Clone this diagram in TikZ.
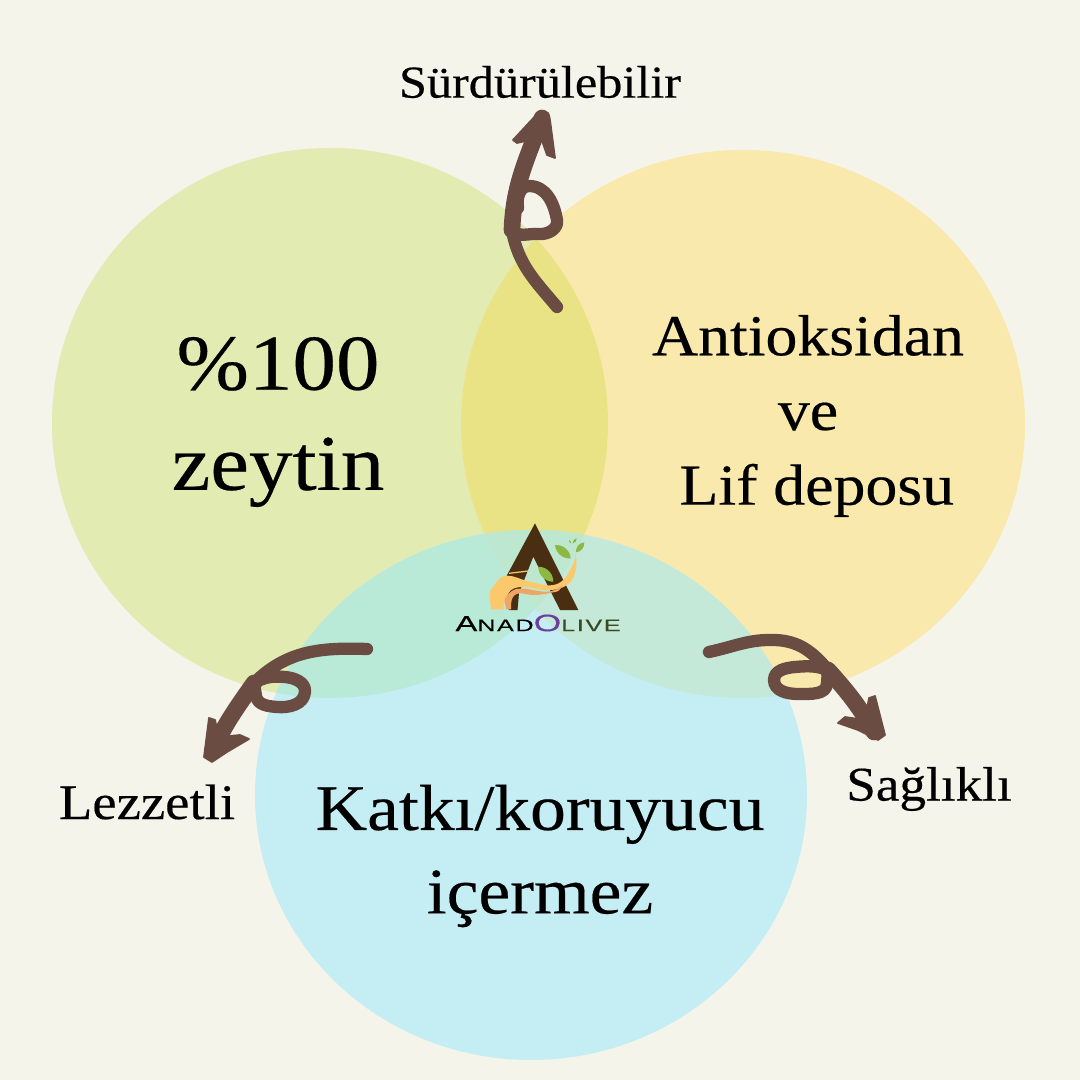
\documentclass[tikz,border=0pt]{standalone}
\usepackage{fontspec}
\usepackage{xcolor}
\usepackage{tikz}
\setmainfont[FakeStretch=1.1,FakeBold=0.35]{Liberation Serif}
\newfontfamily\logofont[FakeStretch=1.5,FakeBold=0.4,LetterSpace=10]{Liberation Sans}
\definecolor{paper}{HTML}{F5F4EA}
\definecolor{olivegreen}{HTML}{E2EBB1}
\definecolor{oliveyellow}{HTML}{F9E9AC}
\definecolor{oliveblue}{HTML}{C4EEF4}
\definecolor{greenyellow}{HTML}{EAE386}
\definecolor{bluegreen}{HTML}{B9EAD7}
\definecolor{blueyellow}{HTML}{C4E9D9}
\definecolor{allthree}{HTML}{BDE7CF}
\definecolor{arrowbrown}{HTML}{6B4C42}
\definecolor{logobrown}{HTML}{4A2E12}
\definecolor{logoyellow}{HTML}{FBC96C}
\definecolor{logoorange}{HTML}{EFA566}
\definecolor{logoleaf}{HTML}{8DB943}
\definecolor{logopurple}{HTML}{6B3FA0}
\definecolor{logodark}{HTML}{3B4A22}
\tikzset{
  swirl/.style={draw=arrowbrown,line width=7pt,line cap=round,line join=round},
  swirlthick/.style={draw=arrowbrown,line width=9.5pt,line cap=round},
  swirlhead/.style={fill=arrowbrown,draw=arrowbrown,line width=1pt,line join=round},
  bigtext/.style={align=center,text=black},
  greencircle/.style={x radius=27.8,y radius=27.5},
  yellowcircle/.style={x radius=28.2,y radius=27.4},
  bluecircle/.style={x radius=27.6,y radius=26.5}
}
\begin{document}
\begin{tikzpicture}[scale=0.2]
\tikzstyle{every node}+=[inner sep=0pt]
\fill [paper] (0,0) rectangle (108,-108);
% circles
\coordinate (zeytin) at (33.0,-42.3);
\coordinate (lif) at (74.3,-42.4);
\coordinate (katki) at (53.1,-79.5);
\fill [olivegreen] (zeytin) circle [greencircle];
\fill [oliveyellow] (lif) circle [yellowcircle];
\fill [oliveblue] (katki) circle [bluecircle];
\begin{scope}
\clip (zeytin) circle [greencircle];
\fill [greenyellow] (lif) circle [yellowcircle];
\fill [bluegreen] (katki) circle [bluecircle];
\clip (lif) circle [yellowcircle];
\fill [allthree] (katki) circle [bluecircle];
\end{scope}
\begin{scope}
\clip (lif) circle [yellowcircle];
\clip (katki) circle [bluecircle];
\fill [blueyellow] (lif) circle [yellowcircle];
\clip (zeytin) circle [greencircle];
\fill [allthree] (katki) circle [bluecircle];
\end{scope}
% texts
\node [bigtext,font=\fontsize{45}{57}\selectfont] (yuzde) at (27.8,-42.2) {\%100\\zeytin};
\node [bigtext,font=\fontsize{33}{42.5}\selectfont] (antiox) at (80.8,-41.6) {Antioksidan\\ve\\\hspace*{10pt}Lif deposu};
\node [bigtext,font=\fontsize{37}{47.5}\selectfont] (katkitext) at (54.0,-85.6) {Katkı/koruyucu\\içermez};
\node [font=\fontsize{26}{30}\selectfont] (surdur) at (54.0,-8.2) {Sürdürülebilir};
\node [font=\fontsize{28.3}{32}\selectfont] (lezzet) at (14.7,-80.2) {Lezzetli};
\node [font=\fontsize{27.5}{32}\selectfont] (saglik) at (92.9,-78.9) {Sağlıklı};
% top arrow
\coordinate (surtail) at (55.7,-30.7);
\coordinate (surtip) at (54.2,-11.8);
\coordinate (surstem) at (51.2,-23.0);
\draw [swirl] (surtail) to[out=130,in=-80] (surstem)
  to[out=-50,in=175] (53.9,-23.4) to[out=-5,in=-80] (55.7,-22.0)
  to[out=100,in=0] (52.9,-18.6) to[out=180,in=100] (51.8,-20.8);
\draw [swirlthick] (surstem) to[out=88,in=250] (surtip);
\fill [swirlhead] (51.3,-14.0) -- (53.8,-11.3) -- (54.8,-11.3) -- (55.0,-12.0) -- (55.5,-15.8) -- (54.7,-15.5) -- (54.0,-13.5) -- (53.0,-14.0) -- (51.7,-14.3) -- cycle;
% left arrow
\coordinate (leztail) at (36.7,-64.9);
\coordinate (leztip) at (21.3,-75.0);
\coordinate (lezturn) at (25.4,-68.3);
\draw [swirl] (leztail) to[out=178,in=45] (lezturn)
  to[out=30,in=175] (28.5,-67.7) to[out=-5,in=85] (30.5,-69.2)
  to[out=-95,in=-5] (27.7,-70.7) to[out=175,in=-80] (25.6,-69.6) -- (lezturn);
\draw [swirlthick] (lezturn) to[out=235,in=65] (leztip);
\fill [swirlhead] (20.9,-71.8) -- (21.5,-72.0) -- (21.9,-73.7) -- (24.0,-73.5) -- (24.9,-73.9) -- (22.7,-75.2) -- (21.2,-76.2) -- (20.4,-75.7) -- cycle;
% right arrow
\coordinate (sagtail) at (70.9,-65.2);
\coordinate (sagtip) at (87.4,-73.2);
\coordinate (sagturn) at (82.8,-67.0);
\draw [swirl] (sagtail) to[out=12,in=178] (77.5,-64.0) to[out=-2,in=130] (sagturn)
  to[out=160,in=5] (79.5,-66.7) to[out=185,in=90] (77.4,-68.0)
  to[out=-90,in=180] (79.8,-69.4) to[out=0,in=-90] (82.7,-68.3) -- (sagturn);
\draw [swirlthick] (sagturn) to[out=-48,in=120] (sagtip);
\fill [swirlhead] (83.8,-72.3) -- (84.5,-71.7) -- (86.5,-72.0) -- (86.9,-69.8) -- (87.5,-69.6) -- (88.5,-73.5) -- (87.8,-74.0) -- (85.8,-73.0) -- cycle;
% logo
\fill [logobrown] (53.5,-52.33) -- (57.83,-61) -- (56,-61) -- (53.33,-55.67) -- (51.9,-59.3) -- (51.75,-61) -- (50.9,-61) -- (49.9,-59) -- cycle;
\draw [logoyellow,line width=0.7pt] (50.9,-57.33) -- (52.83,-57.1);
\fill [logoyellow] (49.1,-60.93) to[out=90,in=230] (49.2,-58.83) to[out=50,in=180] (50.67,-57.57)
  to[out=0,in=170] (53.0,-58.17) to[out=-10,in=190] (55.33,-58.5) to[out=10,in=240] (56.83,-57.33)
  to[out=60,in=265] (57.57,-55.33) to[out=-85,in=80] (57.6,-56.83) to[out=-100,in=35] (56.67,-58.5)
  to[out=215,in=0] (54.67,-59.0) to[out=180,in=0] (52.33,-58.7) to[out=180,in=65] (50.8,-59.4)
  to[out=245,in=88] (50.33,-60.93) -- cycle;
\fill [logoorange] (50.6,-60.93) to[out=92,in=230] (50.6,-59.67) to[out=50,in=180] (52,-58.85)
  to[out=0,in=180] (54.67,-59.17) to[out=0,in=210] (56.33,-58.5) to[out=215,in=10] (55.67,-59.17)
  to[out=190,in=0] (53.33,-59.5) to[out=180,in=0] (52,-59.33) to[out=180,in=75] (51.17,-60)
  to[out=255,in=88] (51.1,-60.93) -- cycle;
\fill [logoleaf] (55.5,-54.5) to[bend left=45] (57.07,-55.83) to[bend left=45] (55.5,-54.5);
\fill [logoleaf] (58.43,-54.23) to[bend left=45] (57.6,-55.23) to[bend left=45] (58.43,-54.23);
\fill [logoleaf] (57.67,-53.83) to[bend left=45] (57.27,-54.33) to[bend left=45] (57.67,-53.83);
\fill [logoleaf] (56.9,-54.0) to[bend left=45] (57.1,-54.33) to[bend left=45] (56.9,-54.0);
\fill [logoleaf] (53.83,-56.67) to[bend left=45] (55.33,-58.17) to[bend left=45] (53.83,-56.67);
\node [text=black,font=\logofont] (anadolive) at (53.8,-62.3) {\fontsize{12.5}{13}\selectfont A\fontsize{9.5}{13}\selectfont NAD\textcolor{logopurple}{\fontsize{13.5}{13}\selectfont O}\textcolor{logodark}{LIVE}};
\end{tikzpicture}
\end{document}
